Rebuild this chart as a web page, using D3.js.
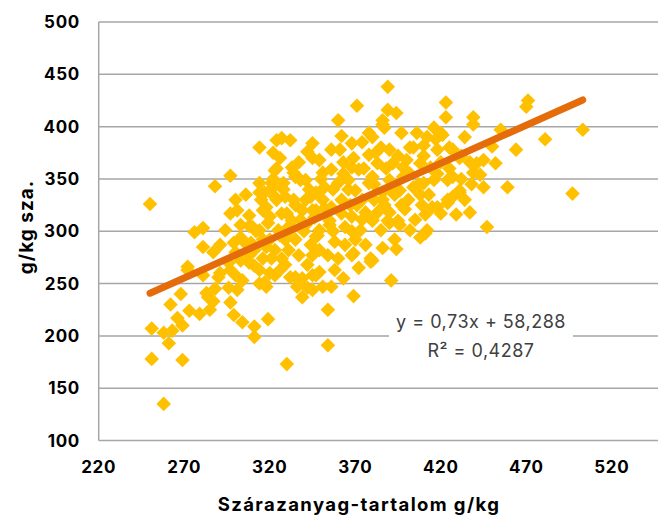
<!DOCTYPE html>
<html>
<head>
<meta charset="utf-8">
<script src="https://cdn.jsdelivr.net/npm/d3@7"></script>
<style>
  body { margin: 0; background: #fff; }
  svg { display: block; }
</style>
</head>
<body>
<svg id="chart" width="658" height="517"></svg>
<script>
// data (dry matter g/kg vs g/kg sza.)
const dryMatter = [
  250,251,251,258,258,261,263,262,268,266,269,269,273,279,283,285,287,288,296,297,
  299,304,301,304,311,311,319,330,314,318,272,281,290,297,308,314,320,326,332,339,
  345,349,336,339,345,354,354,288,297,314,324,327,332,322,326,324,314,314,322,328,
  337,342,345,349,334,338,344,351,276,281,281,287,297,301,299,303,310,309,318,320,
  324,330,334,338,345,351,272,284,291,371,360,323,345,356,362,361,368,374,378,378,
  363,368,372,356,333,335,341,321,317,323,329,341,347,352,360,366,370,374,378,339,
  347,356,362,368,374,327,316,319,331,316,335,347,358,364,370,369,372,379,342,351,
  356,363,358,347,335,329,323,317,316,321,327,337,345,354,360,368,342,331,389,423,
  389,394,423,439,439,386,387,397,416,421,434,406,404,410,385,390,380,427,418,437,
  431,445,443,445,437,447,431,427,424,418,420,415,401,404,410,416,424,427,390,390,
  396,380,386,390,398,408,400,392,383,380,411,408,398,414,420,386,394,380,391,471,
  470,455,450,464,481,503,452,459,497,386,412,420,441,439,412,424,431,389,380,369,
  379,381,387,393,399,405,411,429,434,396,408,385,402,393,373,376,367,355,349,344,
  364,329,323,332,341,349,320,325,311,308,303,296,300,311,306,300,308,303,294,291,
  314,317,
  305,312,318,326,333,340,346,352,357,362,366,371,376,381,386,391,397,402,407,413,
  418,425,432,438,300,308,315,322,328,335,343,350,357,363,369,375,382,388,395,402,
  410,417,425,432,355,348,368,383,395,409
];
const gPerKgSza = [
  326,207,178,135,203,193,205,230,240,217,210,177,224,221,241,225,233,245,246,232,
  220,213,244,253,209,199,216,173,250,247,263,258,256,263,270,263,260,263,256,255,
  258,261,247,237,244,225,191,343,353,380,387,389,387,375,370,360,346,337,342,346,
  366,376,384,368,356,349,333,356,299,303,285,280,317,320,289,294,304,289,323,314,
  330,317,330,311,320,330,266,237,260,420,406,358,370,378,391,378,384,385,394,373,
  366,361,359,359,361,352,349,346,337,333,333,330,337,342,346,349,339,330,346,320,
  320,323,317,314,311,317,320,308,304,292,292,295,290,304,292,238,265,271,246,247,
  247,255,263,258,256,268,258,251,274,274,274,277,277,277,274,277,268,282,438,423,
  416,413,409,409,402,402,399,394,399,392,390,394,380,382,380,378,390,378,378,366,
  370,368,354,342,318,304,339,333,327,323,317,323,330,342,346,349,349,352,318,308,
  306,311,337,349,352,365,368,365,365,352,298,294,361,361,366,284,283,272,253,425,
  419,397,381,378,388,397,365,342,336,406,390,394,365,356,301,330,337,310,310,279,
  274,330,325,335,321,311,316,316,330,339,335,301,301,292,301,287,325,306,301,287,
  287,292,282,301,306,282,292,301,282,277,272,270,258,267,335,330,315,306,301,287,
  301,287,
  290,300,285,296,310,300,313,322,300,330,340,325,318,345,330,340,325,355,345,335,
  355,360,350,345,280,305,330,350,340,325,340,350,340,355,370,360,375,360,372,380,
  372,388,380,372,310,296,300,318,310,325
];

const yTicks = [100, 150, 200, 250, 300, 350, 400, 450, 500];
const xTicks = [220, 270, 320, 370, 420, 470, 520];

const slope = 0.73;
const intercept = 58.288;
const trendRange = [250, 503];
const eqLines = ["y = 0,73x + 58,288", "R² = 0,4287"];

const width = 658, height = 517;
const svg = d3.select("#chart");

const x = d3.scaleLinear().domain([220, 547]).range([98.7, 658]);
const y = d3.scaleLinear().domain([100, 500]).range([440.5, 22]);

const gridColor = "#a6a6a6";
const labelFont = "Inter, 'Noto Sans', sans-serif";

// horizontal gridlines
svg.append("g")
  .selectAll("line")
  .data(yTicks)
  .join("line")
  .attr("x1", x(220))
  .attr("x2", width)
  .attr("y1", d => y(d))
  .attr("y2", d => y(d))
  .attr("stroke", gridColor)
  .attr("stroke-width", 1.5);

// left axis line
svg.append("line")
  .attr("x1", x(220)).attr("x2", x(220))
  .attr("y1", y(500)).attr("y2", y(100))
  .attr("stroke", gridColor)
  .attr("stroke-width", 1.5);

// y tick labels
svg.append("g")
  .selectAll("text")
  .data(yTicks)
  .join("text")
  .attr("x", 80)
  .attr("y", d => y(d))
  .attr("dy", "0.36em")
  .attr("text-anchor", "end")
  .style("font-family", labelFont)
  .style("font-weight", 700)
  .style("font-size", "17px")
  .style("letter-spacing", "0.7px")
  .style("fill", "#000")
  .text(d => d);

// x tick labels
svg.append("g")
  .selectAll("text")
  .data(xTicks)
  .join("text")
  .attr("x", d => x(d))
  .attr("y", 473)
  .attr("text-anchor", "middle")
  .style("font-family", labelFont)
  .style("font-weight", 700)
  .style("font-size", "17px")
  .style("letter-spacing", "0.7px")
  .style("fill", "#000")
  .text(d => d);

// axis titles
svg.append("text")
  .attr("transform", "translate(33,227) rotate(-90)")
  .attr("text-anchor", "middle")
  .style("font-family", labelFont)
  .style("font-weight", 700)
  .style("font-size", "19px")
  .style("letter-spacing", "1px")
  .text("g/kg sza.");

svg.append("text")
  .attr("x", 359)
  .attr("y", 511)
  .attr("text-anchor", "middle")
  .style("font-family", labelFont)
  .style("font-weight", 700)
  .style("font-size", "18.5px")
  .style("letter-spacing", "1.4px")
  .text("Szárazanyag-tartalom g/kg");

// equation label box (covers the gridline behind it)
svg.append("rect")
  .attr("x", 389).attr("y", 302)
  .attr("width", 184).attr("height", 64)
  .attr("fill", "#fff");

svg.append("g")
  .selectAll("text")
  .data(eqLines)
  .join("text")
  .attr("x", 481)
  .attr("y", (d, i) => 328 + i * 29)
  .attr("text-anchor", "middle")
  .style("font-family", labelFont)
  .style("font-size", "18px")
  .style("letter-spacing", "0.5px")
  .style("fill", "#404040")
  .text(d => d);

// points as diamonds
const r = 7.3;
const diamond = `M0,${-r}L${r},0L0,${r}L${-r},0Z`;
const points = dryMatter.map((d, i) => ({ x: d, y: gPerKgSza[i] }));

svg.append("g")
  .selectAll("path")
  .data(points)
  .join("path")
  .attr("d", diamond)
  .attr("transform", d => `translate(${x(d.x)},${y(d.y)})`)
  .attr("fill", "#ffc000");

// linear trend line
svg.append("line")
  .attr("x1", x(trendRange[0]))
  .attr("y1", y(slope * trendRange[0] + intercept))
  .attr("x2", x(trendRange[1]))
  .attr("y2", y(slope * trendRange[1] + intercept))
  .attr("stroke", "#e46c0a")
  .attr("stroke-width", 7)
  .attr("stroke-linecap", "round");
</script>
</body>
</html>
